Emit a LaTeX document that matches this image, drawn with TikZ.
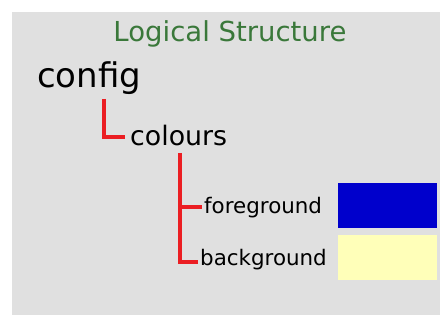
\documentclass[tikz,border=0pt]{standalone}
\usepackage{fontspec}
\setmainfont{DejaVu Sans}
\begin{document}
\begin{tikzpicture}[x=1pt,y=-1pt,
  lbl/.style={inner sep=0pt,anchor=base west,text=black},
  tree/.style={draw={rgb,255:red,235;green,30;blue,35},line width=3.4pt,line cap=butt,line join=miter},
  swatch/.style={inner sep=0pt,minimum width=99pt,minimum height=45pt,anchor=north west}]
\definecolor{bggrey}{RGB}{224,224,224}
\definecolor{titlegreen}{RGB}{58,120,58}
\definecolor{fgblue}{RGB}{0,0,204}
\definecolor{bgyellow}{RGB}{255,255,185}
\useasboundingbox (0,0) rectangle (440,320);
\fill[white] (0,0) rectangle (440,320);
\fill[bggrey] (12,12) rectangle (440,315);
\node[inner sep=0pt,anchor=base,text=titlegreen,font=\fontsize{27.5}{30}\selectfont] (title) at (230,42) {Logical Structure};
\node[lbl,font=\fontsize{34}{38}\selectfont] (config) at (37,88) {config};
\node[lbl,font=\fontsize{26.8}{30}\selectfont] (colours) at (130,146) {colours};
\node[lbl,font=\fontsize{21.4}{24}\selectfont] (fg) at (204,214) {foreground};
\node[lbl,font=\fontsize{21.4}{24}\selectfont] (bg) at (200,266) {background};
\node[swatch,fill=fgblue] (fgsw) at (338,183) {};
\node[swatch,fill=bgyellow] (bgsw) at (338,235) {};
\coordinate (c1) at (104,99);
\coordinate (c2) at (180,153);
\draw[tree] (c1) |- ([xshift=-5pt]colours.west |- 0,137);
\draw[tree] (c2) |- ([xshift=-2pt]bg.west |- 0,262);
\draw[tree] (c2 |- 0,207) -- ([xshift=-2pt]fg.west |- 0,207);
\end{tikzpicture}
\end{document}
